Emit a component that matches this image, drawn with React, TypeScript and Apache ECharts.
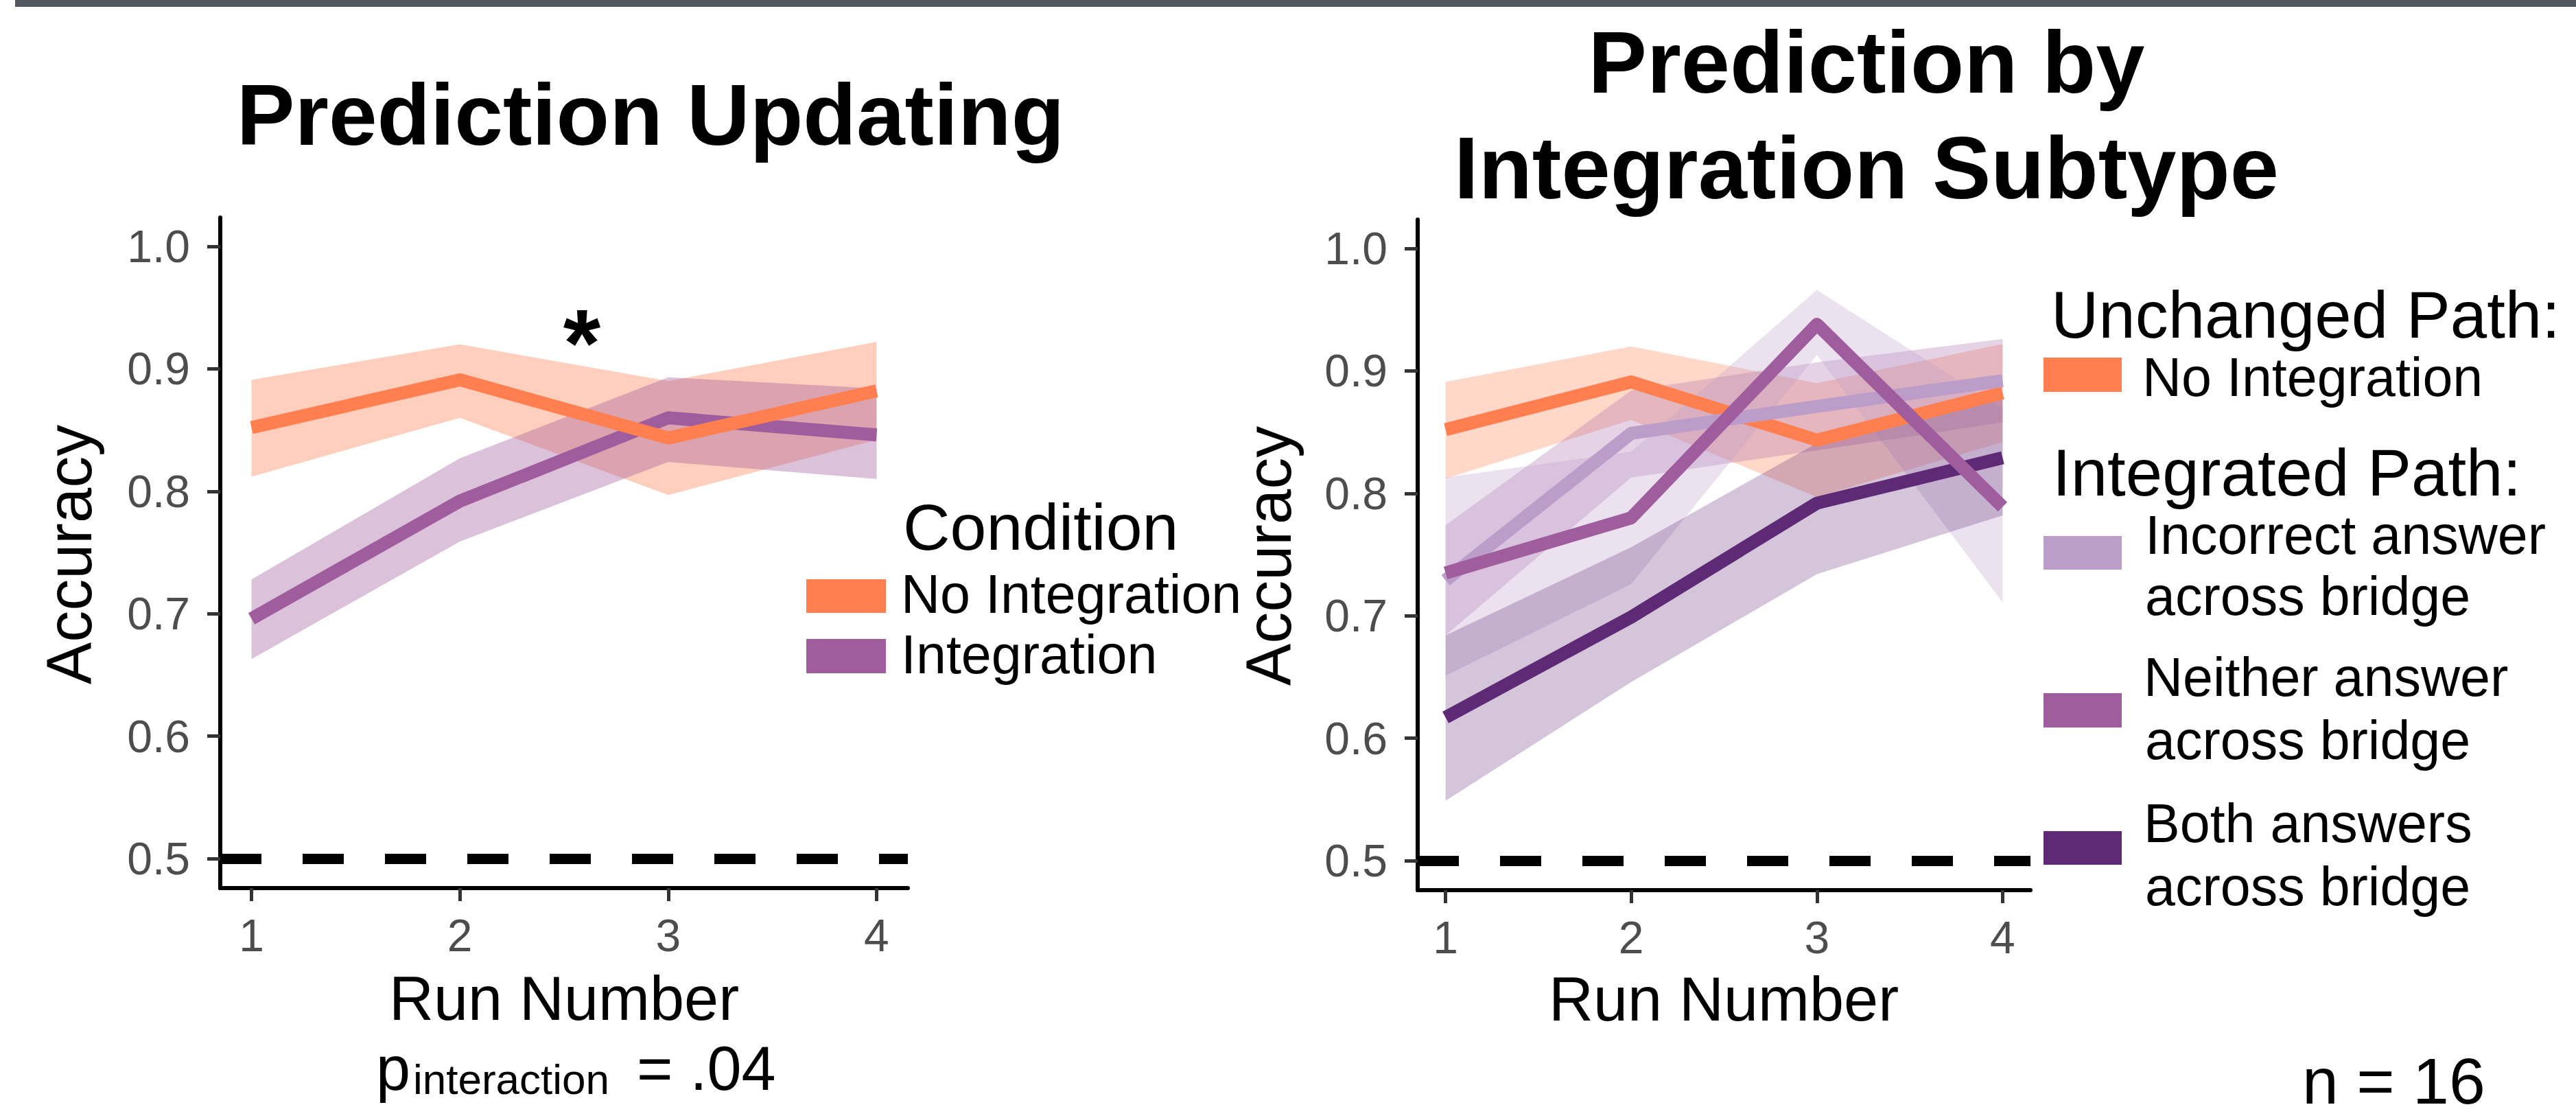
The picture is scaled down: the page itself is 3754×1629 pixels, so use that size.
import React, { useEffect, useRef } from 'react';
import * as echarts from 'echarts';

// ---------- data ----------
const runs = [1, 2, 3, 4];
const yTicks = [0.5, 0.6, 0.7, 0.8, 0.9, 1.0];
const chanceLevel = 0.5;

// Left panel: Prediction Updating
const noIntMean = [0.852, 0.891, 0.8435, 0.882];
const noIntLo = [0.812, 0.86, 0.797, 0.842];
const noIntHi = [0.891, 0.92, 0.89, 0.922];
const intMean = [0.696, 0.792, 0.86, 0.846];
const intLo = [0.663, 0.759, 0.824, 0.81];
const intHi = [0.728, 0.827, 0.893, 0.884];

// Right panel: Prediction by Integration Subtype
const incorrectMean = [0.729, 0.849, 0.871, 0.892];
const incorrectLo = [0.684, 0.813, 0.835, 0.858];
const incorrectHi = [0.774, 0.884, 0.907, 0.926];
const neitherMean = [0.735, 0.78, 0.938, 0.789];
const neitherLo = [0.651, 0.726, 0.913, 0.711];
const neitherHi = [0.813, 0.834, 0.966, 0.869];
const bothMean = [0.617, 0.699, 0.792, 0.829];
const bothLo = [0.549, 0.646, 0.734, 0.782];
const bothHi = [0.684, 0.756, 0.841, 0.877];

// ---------- styles ----------
const C_NOINT = '#ff7f50';
const C_INT = '#a05d9e';
const C_INCORRECT = '#bc9dca';
const C_NEITHER = '#a05d9e';
const C_BOTH = '#5f2a75';
const FONT = "'Liberation Sans', Arial, Helvetica, sans-serif";
const LINE_W = 19;

const rgba = (hex: string, a: number) => {
  const n = parseInt(hex.slice(1), 16);
  return `rgba(${(n >> 16) & 255},${(n >> 8) & 255},${n & 255},${a})`;
};

const ribbon = (lo: number[], hi: number[], fill: string, gi: number) => ({
  type: 'custom',
  xAxisIndex: gi,
  yAxisIndex: gi,
  z: 1,
  silent: true,
  data: runs.map((r, i) => [r, lo[i], hi[i]]),
  encode: { x: 0, y: [1, 2] },
  renderItem: (params: any, api: any) => {
    if (params.dataIndex !== 0) return null;
    const upper = runs.map((r, i) => api.coord([r, hi[i]]));
    const lower = runs.map((r, i) => api.coord([r, lo[i]])).reverse();
    return { type: 'polygon', shape: { points: upper.concat(lower) }, style: { fill } };
  },
});

const line = (name: string, mean: number[], color: string, gi: number, z: number, extra: any = {}) => ({
  type: 'line',
  name,
  xAxisIndex: gi,
  yAxisIndex: gi,
  z,
  silent: true,
  showSymbol: false,
  symbol: 'none',
  data: runs.map((r, i) => [r, mean[i]]),
  lineStyle: { color, width: LINE_W, cap: 'butt', join: 'round' },
  itemStyle: { color },
  emphasis: { disabled: true },
  ...extra,
});

const chanceMark = {
  markLine: {
    silent: true,
    symbol: ['none', 'none'],
    label: { show: false },
    lineStyle: { color: '#000', width: 15, type: [60, 60] },
    data: [{ yAxis: chanceLevel }],
  },
};

const xAxis = (gi: number) => ({
  type: 'value',
  gridIndex: gi,
  min: 0.85,
  max: 4.15,
  axisLine: { show: true, onZero: false, lineStyle: { color: '#000', width: 6 } },
  axisTick: { show: true, length: 19, lineStyle: { color: '#333', width: 5 }, customValues: runs },
  axisLabel: { show: true, customValues: runs, margin: 36, fontSize: 66, color: '#4d4d4d', fontFamily: FONT, formatter: (v: number) => String(v) },
  splitLine: { show: false },
});

const yAxis = (gi: number) => ({
  type: 'value',
  gridIndex: gi,
  min: 0.476,
  max: 1.0235,
  axisLine: { show: true, onZero: false, lineStyle: { color: '#000', width: 6 } },
  axisTick: { show: true, length: 19, lineStyle: { color: '#333', width: 5 }, customValues: yTicks },
  axisLabel: { show: true, customValues: yTicks, margin: 44, fontSize: 66, color: '#4d4d4d', fontFamily: FONT, formatter: (v: number) => v.toFixed(1) },
  splitLine: { show: false },
});

const txt = (text: string, x: number, y: number, size: number, o: any = {}) => ({
  type: 'text',
  x,
  y,
  rotation: o.rotation || 0,
  silent: true,
  z: 10,
  style: {
    text,
    fill: o.color || '#000',
    fontSize: size,
    fontFamily: o.family || FONT,
    fontWeight: o.weight || 'normal',
    textAlign: o.align || 'left',
    align: o.align || 'left',
    textVerticalAlign: 'middle',
    verticalAlign: 'middle',
  },
});

const key = (x: number, y: number, w: number, h: number, fill: string) => ({
  type: 'rect',
  silent: true,
  z: 10,
  shape: { x, y, width: w, height: h },
  style: { fill },
});

const graphics = [
  key(22, 0, 3732, 10, '#52565e'),
  // titles
  txt('Prediction Updating', 948, 167, 127, { weight: 'bold', align: 'center' }),
  txt('Prediction by', 2720, 90, 128, { weight: 'bold', align: 'center' }),
  txt('Integration Subtype', 2720, 244, 128, { weight: 'bold', align: 'center' }),
  // axis titles
  txt('Accuracy', 101, 808, 92, { rotation: Math.PI / 2, align: 'center' }),
  txt('Accuracy', 1849, 810, 92, { rotation: Math.PI / 2, align: 'center' }),
  txt('Run Number', 822, 1455, 90, { align: 'center' }),
  txt('Run Number', 2512, 1456, 90, { align: 'center' }),
  // significance star
  txt('*', 848, 499, 140, { weight: 'bold', align: 'center' }),
  // left legend
  txt('Condition', 1316, 768, 95),
  key(1175, 844, 116, 49, C_NOINT),
  key(1175, 931, 116, 50, C_INT),
  txt('No Integration', 1313, 865, 79),
  txt('Integration', 1313, 953, 79),
  // right legend
  txt('Unchanged Path:', 2989, 458, 96),
  key(2978, 521, 114, 50, C_NOINT),
  txt('No Integration', 3122, 549, 79),
  txt('Integrated Path:', 2991, 688, 96),
  key(2978, 781, 114, 49, C_INCORRECT),
  txt('Incorrect answer', 3126, 779, 79),
  txt('across bridge', 3126, 868, 79),
  key(2978, 1010, 114, 50, C_NEITHER),
  txt('Neither answer', 3124, 986, 79),
  txt('across bridge', 3126, 1078, 79),
  key(2978, 1211, 114, 49, C_BOTH),
  txt('Both answers', 3124, 1199, 79),
  txt('across bridge', 3126, 1291, 79),
  // annotations
  txt('p', 548, 1557, 90),
  txt('interaction', 602, 1572, 62),
  txt('= .04', 928, 1557, 90),
  txt('n = 16', 3355, 1575, 95),
];

const option = {
  animation: false,
  backgroundColor: '#ffffff',
  grid: [
    { left: 321, top: 317, width: 1002, height: 977 },
    { left: 2066, top: 320, width: 893, height: 977 },
  ],
  xAxis: [xAxis(0), xAxis(1)],
  yAxis: [yAxis(0), yAxis(1)],
  series: [
    // left panel
    ribbon(noIntLo, noIntHi, rgba(C_NOINT, 0.38), 0),
    ribbon(intLo, intHi, rgba(C_INT, 0.38), 0),
    line('Integration', intMean, C_INT, 0, 3, chanceMark),
    line('No Integration', noIntMean, C_NOINT, 0, 4),
    // right panel
    ribbon(noIntLo, noIntHi, rgba(C_NOINT, 0.3), 1),
    ribbon(incorrectLo, incorrectHi, rgba(C_NEITHER, 0.27), 1),
    ribbon(neitherLo, neitherHi, rgba(C_INCORRECT, 0.3), 1),
    ribbon(bothLo, bothHi, rgba(C_BOTH, 0.27), 1),
    line('No Integration', noIntMean, C_NOINT, 1, 3, chanceMark),
    line('Incorrect answer across bridge', incorrectMean, C_INCORRECT, 1, 4),
    line('Both answers across bridge', bothMean, C_BOTH, 1, 5),
    line('Neither answer across bridge', neitherMean, C_NEITHER, 1, 6),
  ],
  graphic: graphics,
};

export default function App() {
  const ref = useRef<HTMLDivElement>(null);
  useEffect(() => {
    const chart = echarts.init(ref.current as HTMLDivElement, null, { renderer: 'svg' });
    chart.setOption(option as any);
    return () => chart.dispose();
  }, []);
  return (
    <div
      ref={ref}
      style={{ position: 'fixed', left: 0, top: 0, width: 3754, height: 1629, background: '#ffffff' }}
    />
  );
}
